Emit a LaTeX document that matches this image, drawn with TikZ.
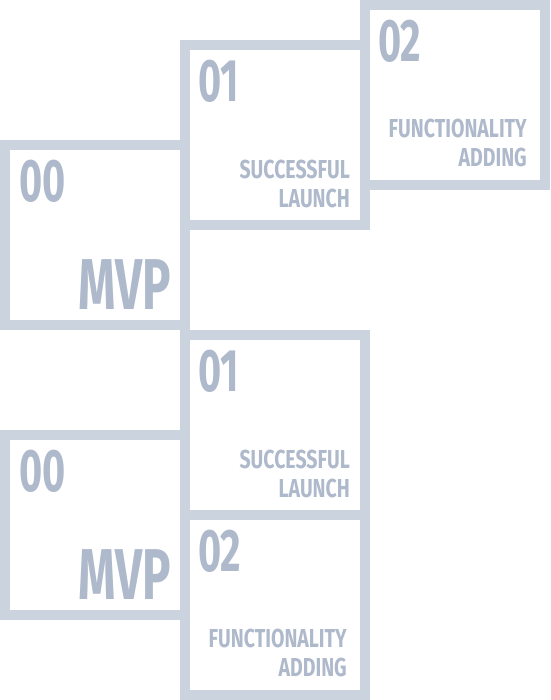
\documentclass[tikz,border=0pt]{standalone}
\usepackage{fontspec}
\usepackage{tikz}
\usetikzlibrary{positioning}
\newfontfamily\tilefont[FakeStretch=0.66]{Fira Sans}
\newfontfamily\capfont[FakeStretch=0.75]{Fira Sans}
\definecolor{tileline}{RGB}{203,211,223}
\definecolor{tiletext}{RGB}{174,185,203}

\begin{document}
\begin{tikzpicture}[
    x=1pt, y=-1pt,
    tile/.style={
        rectangle,
        draw=tileline,
        line width=10pt,
        minimum width=180pt,
        minimum height=180pt,
        inner sep=0pt,
        outer sep=0pt
    },
    num/.style={
        anchor=north west,
        inner sep=0pt,
        text=tiletext,
        font=\tilefont\bfseries\fontsize{60}{60}\selectfont
    },
    title/.style={
        anchor=south east,
        inner sep=0pt,
        text=tiletext,
        font=\tilefont\bfseries\fontsize{72}{72}\selectfont
    },
    caption/.style={
        anchor=south east,
        inner sep=0pt,
        align=right,
        text=tiletext,
        font=\capfont\bfseries\fontsize{26}{28.5}\selectfont
    }
]
\useasboundingbox (0,0) rectangle (550,700);

% upper staircase
\node[tile] (t00) at (95,235) {};
\node[tile] (t01) at (275,135) {};
\node[tile] (t02) at (455,95) {};
\node[num] (t00n) at ([shift={(14,15)}]t00.north west) {00};
\node[title] (t00t) at ([shift={(-14,-15)}]t00.south east) {MVP};
\node[num] (t01n) at ([shift={(13,15)}]t01.north west) {01};
\node[caption] (t01t) at ([shift={(-15,-17)}]t01.south east) {SUCCESSFUL\\LAUNCH};
\node[num] (t02n) at ([shift={(13,15)}]t02.north west) {02};
\node[caption] (t02t) at ([shift={(-18,-18)}]t02.south east) {FUNCTIONALITY\\ADDING};

% lower stack
\node[tile] (b00) at (95,525) {};
\node[tile] (b01) at (275,425) {};
\node[tile, below=0pt of b01] (b02) {};
\node[num] (b00n) at ([shift={(14,15)}]b00.north west) {00};
\node[title] (b00t) at ([shift={(-14,-15)}]b00.south east) {MVP};
\node[num] (b01n) at ([shift={(13,15)}]b01.north west) {01};
\node[caption] (b01t) at ([shift={(-15,-17)}]b01.south east) {SUCCESSFUL\\LAUNCH};
\node[num] (b02n) at ([shift={(13,15)}]b02.north west) {02};
\node[caption] (b02t) at ([shift={(-18,-18)}]b02.south east) {FUNCTIONALITY\\ADDING};

\end{tikzpicture}
\end{document}
